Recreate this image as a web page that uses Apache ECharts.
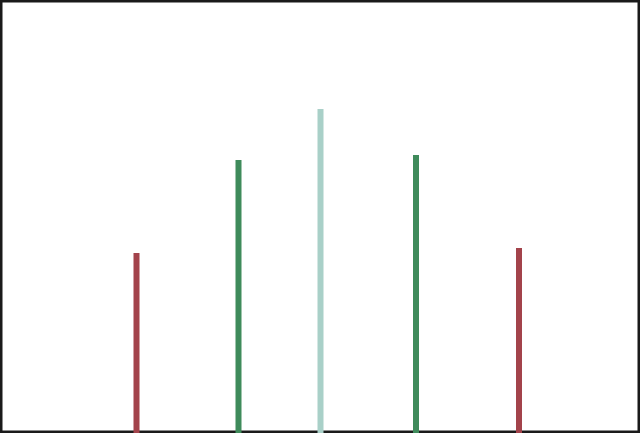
<!DOCTYPE html>
<html>
<head>
<meta charset="utf-8">
<script src="https://cdn.jsdelivr.net/npm/echarts@6/dist/echarts.min.js"></script>
<style>
html, body { margin: 0; padding: 0; background: #fff; }
#chart { width: 640px; height: 433px; }
</style>
</head>
<body>
<div id="chart"></div>
<script>
// bar positions along x (0..640 scale) and heights (0..433 scale)
var positions = [136.5, 238.5, 320.5, 416, 519];
var heights = [180, 273, 324, 278, 185];
var colors = ["#a3434b", "#3f8b5b", "#a9d0c8", "#3f8b5b", "#a3434b"];

var chart = echarts.init(document.getElementById("chart"));

var points = [];
for (var i = 0; i < positions.length; i++) {
    points.push({
        value: [positions[i], heights[i]],
        itemStyle: { color: colors[i] }
    });
}

chart.setOption({
    animation: false,
    grid: { left: 0, right: 0, top: 0, bottom: 0 },
    xAxis: { type: "value", min: 0, max: 640, show: false },
    yAxis: { type: "value", min: 0, max: 433, show: false },
    series: [{
        type: "bar",
        barWidth: 6,
        data: points
    }],
    graphic: [{
        type: "rect",
        shape: { x: 1, y: 1, width: 638, height: 431 },
        style: { fill: "none", stroke: "#1a1a1a", lineWidth: 3 },
        z: -1
    }]
});
</script>
</body>
</html>
